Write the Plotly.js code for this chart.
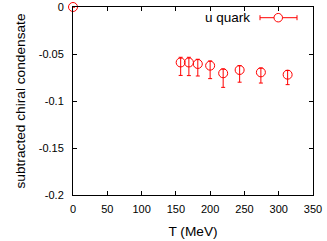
<!DOCTYPE html>
<html>
<head>
<meta charset="utf-8">
<script src="https://cdn.plot.ly/plotly-3.0.1.min.js"></script>
<style>html,body{margin:0;padding:0;background:#fff;}#chart{width:327px;height:241px;}</style>
</head>
<body>
<div id="chart"></div>
<script>
const temperature = [0, 157, 169, 182, 200, 219, 243, 274, 313];
const condensate = [0, -0.059, -0.059, -0.0606, -0.0624, -0.0705, -0.067, -0.0695, -0.072];
const errPlus = [0, 0.0055, 0.0055, 0.005, 0.005, 0.0045, 0.0045, 0.0045, 0.0045];
const errMinus = [0, 0.0138, 0.014, 0.0128, 0.0138, 0.015, 0.013, 0.0114, 0.0106];
const xTickVals = [0, 50, 100, 150, 200, 250, 300, 350];
const xTickText = ["0", "50", "100", "150", "200", "250", "300", "350"];
const yTickVals = [0, -0.05, -0.1, -0.15, -0.2];
const yTickText = ["0", "-0.05", "-0.1", "-0.15", "-0.2"];
const seriesName = "u quark";

const M = {l: 73, r: 14, t: 7, b: 46};
const PW = 327 - M.l - M.r, PH = 241 - M.t - M.b;
const fx = p => (p - M.l) / PW;
const fy = p => 1 - (p - M.t) / PH;
const red = "#ff0000";
const font = "Liberation Sans, Arial, sans-serif";

const trace = {
  x: temperature, y: condensate, type: "scatter", mode: "markers", name: seriesName,
  cliponaxis: false, showlegend: false,
  marker: {symbol: "circle-open", size: 9, color: red, line: {width: 1, color: red}},
  error_y: {type: "data", symmetric: false, array: errPlus, arrayminus: errMinus,
            color: red, thickness: 1, width: 2}
};

// legend key (text on left, errorbar symbol on right, gnuplot-style)
const ly = 17.7;
const shapes = [
  {type: "line", xref: "paper", yref: "paper", x0: fx(260), x1: fx(297), y0: fy(ly), y1: fy(ly), line: {color: red, width: 1}},
  {type: "line", xref: "paper", yref: "paper", x0: fx(260), x1: fx(260), y0: fy(ly - 2.5), y1: fy(ly + 2.5), line: {color: red, width: 1}},
  {type: "line", xref: "paper", yref: "paper", x0: fx(297), x1: fx(297), y0: fy(ly - 2.5), y1: fy(ly + 2.5), line: {color: red, width: 1}},
  {type: "circle", xref: "paper", yref: "paper", x0: fx(274), x1: fx(282.5), y0: fy(ly - 4.25), y1: fy(ly + 4.25), line: {color: red, width: 1}, fillcolor: "rgba(255,255,255,1)"}
];

const layout = {
  width: 327, height: 241,
  margin: M,
  paper_bgcolor: "#fff", plot_bgcolor: "#fff",
  showlegend: false,
  font: {family: font, size: 11, color: "#000"},
  xaxis: {
    range: [0, 350], tickvals: xTickVals, ticktext: xTickText,
    showline: true, mirror: "ticks", linecolor: "#000", linewidth: 1,
    ticks: "inside", ticklen: 4, tickcolor: "#000", tickwidth: 1,
    showgrid: false, zeroline: false, ticklabelstandoff: 4,
    tickfont: {family: font, size: 11, color: "#000"},
    title: {text: "T (MeV)", font: {family: font, size: 13.7, color: "#000"}, standoff: 12}
  },
  yaxis: {
    range: [-0.2, 0], tickvals: yTickVals, ticktext: yTickText,
    showline: true, mirror: "ticks", linecolor: "#000", linewidth: 1,
    ticks: "inside", ticklen: 4, tickcolor: "#000", tickwidth: 1,
    showgrid: false, zeroline: false, ticklabelstandoff: 6,
    tickfont: {family: font, size: 11, color: "#000"},
    title: {text: "subtracted chiral condensate", font: {family: font, size: 13.7, color: "#000"}, standoff: 9}
  },
  shapes: shapes,
  annotations: [{
    xref: "paper", yref: "paper", x: fx(252), y: fy(ly), xanchor: "right", yanchor: "middle",
    text: seriesName, showarrow: false, font: {family: font, size: 13.5, color: "#000"}
  }]
};

Plotly.newPlot("chart", [trace], layout, {staticPlot: true, displayModeBar: false});
</script>
</body>
</html>
